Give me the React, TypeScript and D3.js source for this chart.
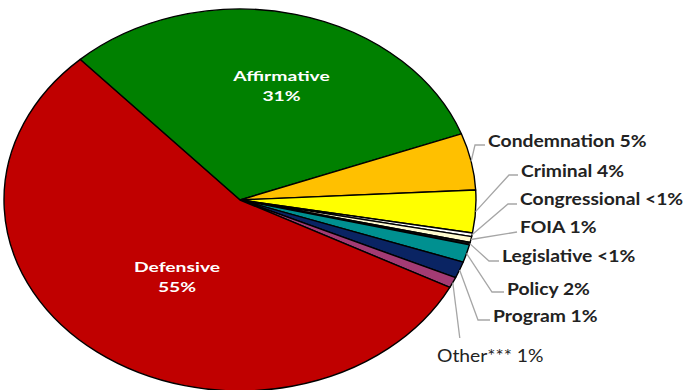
import React from "react";
import * as d3 from "d3";

const categories = ["Affirmative", "Condemnation", "Criminal", "Congressional", "FOIA", "Legislative", "Policy", "Program", "Other***", "Defensive"];
const values = [31.2, 4.8, 3.6, 0.3, 0.5, 0.2, 1.5, 1.4, 0.9, 55.6];
const pctLabels = ["31%", "5%", "4%", "<1%", "1%", "<1%", "2%", "1%", "1%", "55%"];
const colors = ["#008000", "#FFC000", "#FFFF00", "#FFFFFF", "#FFFBD0", "#1A1A1A", "#009090", "#0A2463", "#A33B74", "#C00000"];

// layout for inside labels (center x, first baseline y)
const inside: Record<string, { x: number; y: number }> = {
  Affirmative: { x: 281.5, y: 81 },
  Defensive: { x: 177, y: 272 },
};
// layout for outside labels (label x, baseline y, leader y, horizontal segment)
const outside: Record<string, { x: number; y: number; ly: number; seg: number }> = {
  Condemnation: { x: 488, y: 147, ly: 145, seg: 10 },
  Criminal: { x: 521, y: 177, ly: 175, seg: 9 },
  Congressional: { x: 520, y: 205, ly: 204, seg: 9 },
  FOIA: { x: 520, y: 233, ly: 232, seg: 0 },
  Legislative: { x: 502, y: 262, ly: 261, seg: 10 },
  Policy: { x: 507, y: 295, ly: 292, seg: 12 },
  Program: { x: 493, y: 322, ly: 320, seg: 12 },
};

export default function App() {
  const W = 684, H = 390;
  const cx = 240, cy = 200, rx = 236, ry = 191, R = 100;
  const start = (-42.6 * Math.PI) / 180;
  const pie = d3.pie<number>().sort(null).value((d) => d).startAngle(start).endAngle(start + 2 * Math.PI);
  const arcs = pie(values);
  const arc = d3.arc<d3.PieArcDatum<number>>().innerRadius(0).outerRadius(R);
  const edge = (a: number, k = 1) => [cx + rx * k * Math.sin(a), cy - ry * k * Math.cos(a)];
  const font = "Lato, 'Open Sans', sans-serif";
  const sxIn = 1.38, sxOut = 1.17;

  return (
    <svg width={W} height={H} style={{ position: "absolute", left: 0, top: 0, background: "#fff" }}>
      <g transform={`translate(${cx},${cy}) scale(${rx / R},${ry / R})`}>
        {arcs.map((a, i) => (
          <path key={i} d={arc(a) || ""} fill={colors[i]} stroke="#000" strokeWidth={1.4} vectorEffect="non-scaling-stroke" strokeLinejoin="round" />
        ))}
      </g>
      {arcs.map((a, i) => {
        const name = categories[i];
        const mid = (a.startAngle + a.endAngle) / 2;
        if (inside[name]) {
          const p = inside[name];
          return (
            <g key={name} transform={`translate(${p.x},${p.y}) scale(${sxIn},1)`}>
              <text fill="#fff" fontFamily={font} fontWeight={700} fontSize={14} textAnchor="middle">
                <tspan x={0} y={0}>{name}</tspan>
                <tspan x={0} y={20.5}>{pctLabels[i]}</tspan>
              </text>
            </g>
          );
        }
        const e = edge(mid);
        if (name === "Other***") {
          return (
            <g key={name}>
              <polyline points={`${e[0]},${e[1]} ${e[0] + 7},338`} fill="none" stroke="#A6A6A6" strokeWidth={1.3} />
              <g transform={`translate(437,362) scale(${sxOut},1)`}>
                <text fill="#222" fontFamily={font} fontWeight={400} fontSize={16.5}>
                  {name} {pctLabels[i]}
                </text>
              </g>
            </g>
          );
        }
        const L = outside[name];
        const pts = [e, [L.x - 3 - L.seg, L.ly], [L.x - 3, L.ly]];
        return (
          <g key={name}>
            <polyline points={pts.map((p) => p.join(",")).join(" ")} fill="none" stroke="#A6A6A6" strokeWidth={1.3} />
            <g transform={`translate(${L.x},${L.y}) scale(${sxOut},1)`}>
              <text fill="#222" fontFamily={font} fontWeight={700} fontSize={16.5}>
                {name} {pctLabels[i]}
              </text>
            </g>
          </g>
        );
      })}
    </svg>
  );
}
